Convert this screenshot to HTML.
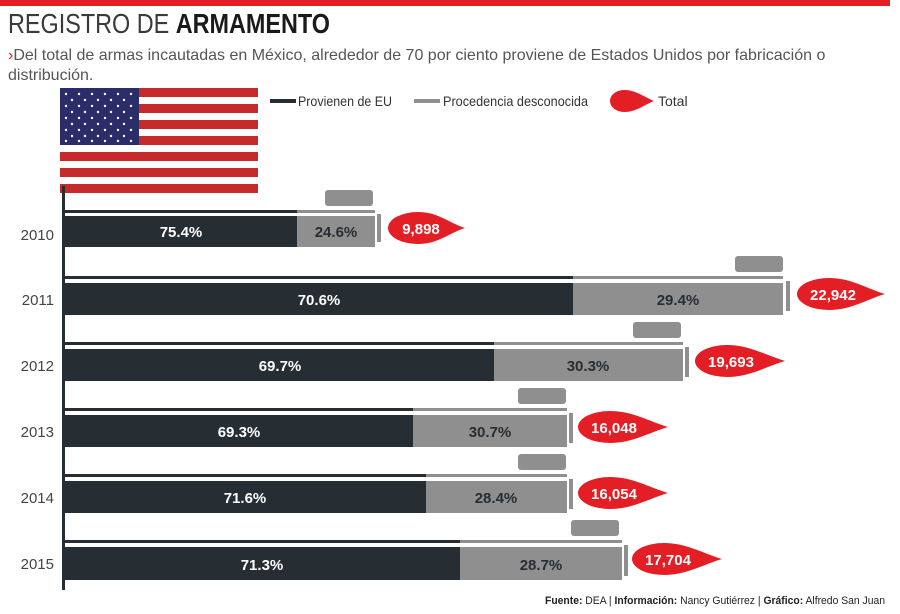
<!DOCTYPE html>
<html><head><meta charset="utf-8"><style>
body{margin:0;background:#fff;width:900px;height:609px;overflow:hidden;font-family:"Liberation Sans",sans-serif}
</style></head><body>
<svg width="900" height="609" viewBox="0 0 900 609" xmlns="http://www.w3.org/2000/svg" font-family="Liberation Sans, sans-serif">
<rect x="0" y="0" width="890" height="6" fill="#e31e24"/>
<text x="8" y="33" font-size="28" fill="#3a3a3a" textLength="322" lengthAdjust="spacingAndGlyphs">REGISTRO DE <tspan font-weight="bold" fill="#1a1a1a">ARMAMENTO</tspan></text>
<text x="8" y="60" font-size="16" fill="#555"><tspan fill="#e31e24">›</tspan>Del total de armas incautadas en México, alrededor de 70 por ciento proviene de Estados Unidos por fabricación o</text>
<text x="8" y="80" font-size="16" fill="#555">distribución.</text>
<g>
<rect x="60" y="88" width="198" height="105" fill="#fff"/>
<g fill="#c62a2a">
<rect x="60" y="88" width="198" height="9"/><rect x="60" y="104" width="198" height="9"/><rect x="60" y="120" width="198" height="9"/><rect x="60" y="136" width="198" height="9"/><rect x="60" y="152" width="198" height="9"/><rect x="60" y="168" width="198" height="9"/><rect x="60" y="184" width="198" height="9"/>
</g>
<rect x="60" y="88" width="79" height="57" fill="#2b2d6a"/>
<g fill="#fff">
<circle cx="66" cy="94" r="1.2"/><circle cx="79" cy="94" r="1.2"/><circle cx="92" cy="94" r="1.2"/><circle cx="105" cy="94" r="1.2"/><circle cx="118" cy="94" r="1.2"/><circle cx="131" cy="94" r="1.2"/>
<circle cx="72" cy="100" r="1.2"/><circle cx="85" cy="100" r="1.2"/><circle cx="98" cy="100" r="1.2"/><circle cx="111" cy="100" r="1.2"/><circle cx="124" cy="100" r="1.2"/>
<circle cx="66" cy="106" r="1.2"/><circle cx="79" cy="106" r="1.2"/><circle cx="92" cy="106" r="1.2"/><circle cx="105" cy="106" r="1.2"/><circle cx="118" cy="106" r="1.2"/><circle cx="131" cy="106" r="1.2"/>
<circle cx="72" cy="112" r="1.2"/><circle cx="85" cy="112" r="1.2"/><circle cx="98" cy="112" r="1.2"/><circle cx="111" cy="112" r="1.2"/><circle cx="124" cy="112" r="1.2"/>
<circle cx="66" cy="118" r="1.2"/><circle cx="79" cy="118" r="1.2"/><circle cx="92" cy="118" r="1.2"/><circle cx="105" cy="118" r="1.2"/><circle cx="118" cy="118" r="1.2"/><circle cx="131" cy="118" r="1.2"/>
<circle cx="72" cy="124" r="1.2"/><circle cx="85" cy="124" r="1.2"/><circle cx="98" cy="124" r="1.2"/><circle cx="111" cy="124" r="1.2"/><circle cx="124" cy="124" r="1.2"/>
<circle cx="66" cy="130" r="1.2"/><circle cx="79" cy="130" r="1.2"/><circle cx="92" cy="130" r="1.2"/><circle cx="105" cy="130" r="1.2"/><circle cx="118" cy="130" r="1.2"/><circle cx="131" cy="130" r="1.2"/>
<circle cx="72" cy="136" r="1.2"/><circle cx="85" cy="136" r="1.2"/><circle cx="98" cy="136" r="1.2"/><circle cx="111" cy="136" r="1.2"/><circle cx="124" cy="136" r="1.2"/>
<circle cx="66" cy="141" r="1.2"/><circle cx="79" cy="141" r="1.2"/><circle cx="92" cy="141" r="1.2"/><circle cx="105" cy="141" r="1.2"/><circle cx="118" cy="141" r="1.2"/><circle cx="131" cy="141" r="1.2"/>
</g>
</g>
<rect x="270" y="99" width="26" height="4" fill="#262d33"/>
<text x="298" y="106" font-size="14" fill="#333" textLength="94" lengthAdjust="spacingAndGlyphs">Provienen de EU</text>
<rect x="414" y="99" width="26" height="4" fill="#8f8f8f"/>
<text x="443" y="106" font-size="14" fill="#333" textLength="145" lengthAdjust="spacingAndGlyphs">Procedencia desconocida</text>
<path d="M624,90 C636,90 644,97 654,101 C644,105 636,112 624,112 A14,11 0 0 1 624,90Z" fill="#e31e24"/>
<text x="658" y="106" font-size="14" fill="#333">Total</text>
<rect x="62" y="186" width="3" height="404" fill="#262d33"/>
<g font-size="15" fill="#444" text-anchor="end">
<text x="54" y="240">2010</text><text x="54" y="305">2011</text><text x="54" y="371">2012</text><text x="54" y="437">2013</text><text x="54" y="503">2014</text><text x="54" y="569">2015</text>
</g>
<g>
<rect x="325" y="190" width="48" height="16" rx="3" fill="#8f8f8f"/>
<rect x="65" y="210" width="232" height="3" fill="#262d33"/><rect x="297" y="210" width="78" height="3" fill="#8f8f8f"/>
<rect x="65" y="216" width="232" height="31" fill="#262d33"/><rect x="297" y="216" width="78" height="31" fill="#8f8f8f"/>
<rect x="377" y="214" width="4" height="28" fill="#8f8f8f"/>
<path d="M418,212 C438,212 447,222 465,228 C447,234 438,244 418,244 A30,16 0 0 1 418,212Z" fill="#e31e24"/>

<rect x="735" y="256" width="48" height="16" rx="3" fill="#8f8f8f"/>
<rect x="65" y="276" width="508" height="3" fill="#262d33"/><rect x="573" y="276" width="210" height="3" fill="#8f8f8f"/>
<rect x="65" y="283" width="508" height="32" fill="#262d33"/><rect x="573" y="283" width="210" height="32" fill="#8f8f8f"/>
<rect x="786" y="281" width="4" height="30" fill="#8f8f8f"/>
<path d="M829,278 C851,278 865,288 885,294 C865,300 851,310 829,310 A32,16 0 0 1 829,278Z" fill="#e31e24"/>

<rect x="633" y="322" width="48" height="16" rx="3" fill="#8f8f8f"/>
<rect x="65" y="342" width="429" height="3" fill="#262d33"/><rect x="494" y="342" width="189" height="3" fill="#8f8f8f"/>
<rect x="65" y="349" width="429" height="32" fill="#262d33"/><rect x="494" y="349" width="189" height="32" fill="#8f8f8f"/>
<rect x="685" y="347" width="4" height="30" fill="#8f8f8f"/>
<path d="M727,345 C749,345 765,355 785,361 C765,367 749,377 727,377 A32,16 0 0 1 727,345Z" fill="#e31e24"/>

<rect x="518" y="388" width="48" height="16" rx="3" fill="#8f8f8f"/>
<rect x="65" y="408" width="348" height="3" fill="#262d33"/><rect x="413" y="408" width="154" height="3" fill="#8f8f8f"/>
<rect x="65" y="415" width="348" height="32" fill="#262d33"/><rect x="413" y="415" width="154" height="32" fill="#8f8f8f"/>
<rect x="569" y="413" width="4" height="30" fill="#8f8f8f"/>
<path d="M610,411 C632,411 648,421 668,427 C648,433 632,443 610,443 A32,16 0 0 1 610,411Z" fill="#e31e24"/>

<rect x="518" y="454" width="48" height="16" rx="3" fill="#8f8f8f"/>
<rect x="65" y="474" width="361" height="3" fill="#262d33"/><rect x="426" y="474" width="141" height="3" fill="#8f8f8f"/>
<rect x="65" y="481" width="361" height="32" fill="#262d33"/><rect x="426" y="481" width="141" height="32" fill="#8f8f8f"/>
<rect x="569" y="479" width="4" height="30" fill="#8f8f8f"/>
<path d="M610,477 C632,477 648,487 668,493 C648,499 632,509 610,509 A32,16 0 0 1 610,477Z" fill="#e31e24"/>

<rect x="571" y="520" width="48" height="16" rx="3" fill="#8f8f8f"/>
<rect x="65" y="540" width="395" height="3" fill="#262d33"/><rect x="460" y="540" width="162" height="3" fill="#8f8f8f"/>
<rect x="65" y="547" width="395" height="33" fill="#262d33"/><rect x="460" y="547" width="162" height="33" fill="#8f8f8f"/>
<rect x="624" y="545" width="4" height="31" fill="#8f8f8f"/>
<path d="M664,543 C686,543 702,553 722,559 C702,565 686,575 664,575 A32,16 0 0 1 664,543Z" fill="#e31e24"/>
</g>
<g font-size="15" font-weight="bold" text-anchor="middle">
<g fill="#fff">
<text x="181" y="237">75.4%</text><text x="319" y="305">70.6%</text><text x="280" y="371">69.7%</text>
<text x="239" y="437">69.3%</text><text x="245" y="503">71.6%</text><text x="262" y="570">71.3%</text>
</g>
<g fill="#262d33">
<text x="336" y="237">24.6%</text><text x="678" y="305">29.4%</text><text x="588" y="371">30.3%</text>
<text x="490" y="437">30.7%</text><text x="496" y="503">28.4%</text><text x="541" y="570">28.7%</text>
</g>
<g fill="#fff">
<text x="421" y="234">9,898</text><text x="833" y="300">22,942</text><text x="731" y="367">19,693</text>
<text x="614" y="433">16,048</text><text x="614" y="499">16,054</text><text x="668" y="565">17,704</text>
</g>
</g>
<text x="885" y="604" font-size="11" fill="#222" text-anchor="end" textLength="340" lengthAdjust="spacingAndGlyphs"><tspan font-weight="bold">Fuente:</tspan> DEA | <tspan font-weight="bold">Información:</tspan> Nancy Gutiérrez | <tspan font-weight="bold">Gráfico:</tspan> Alfredo San Juan</text>
</svg>
</body></html>
